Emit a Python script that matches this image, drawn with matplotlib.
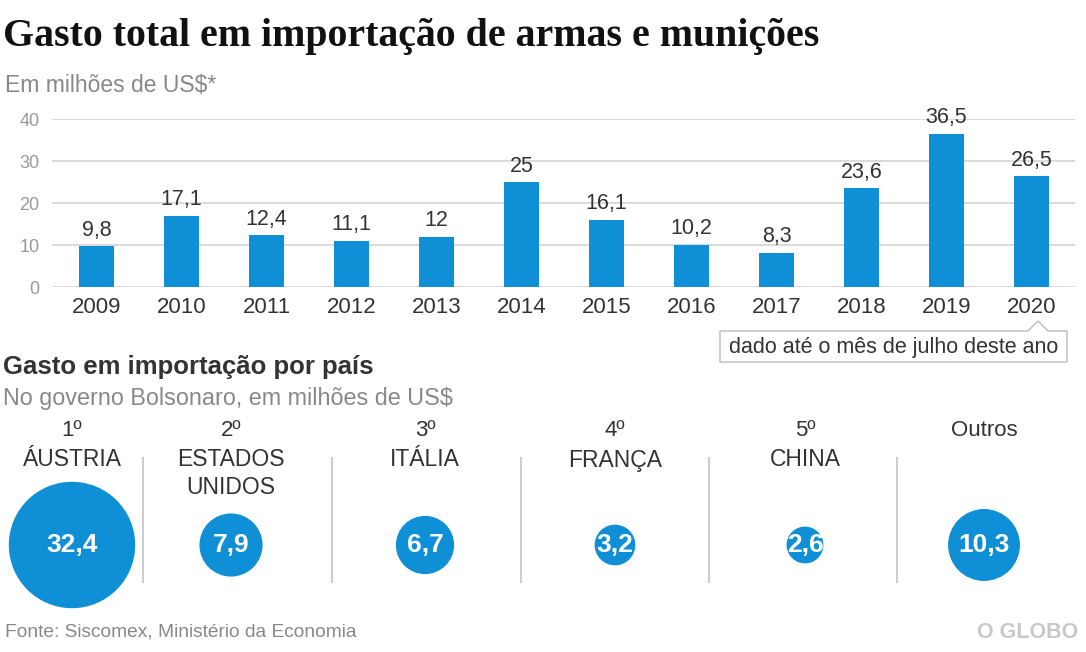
import matplotlib
matplotlib.use("Agg")
import matplotlib.pyplot as plt
from matplotlib.patches import Circle, Polygon
import numpy as np

plt.rcParams['font.family'] = ['Liberation Sans', 'DejaVu Sans']

# dados do gráfico de barras
anos = ['2009', '2010', '2011', '2012', '2013', '2014', '2015', '2016', '2017', '2018', '2019', '2020']
gastos = [9.8, 17.1, 12.4, 11.1, 12.0, 25.0, 16.1, 10.2, 8.3, 23.6, 36.5, 26.5]
rotulos_gasto = ['9,8', '17,1', '12,4', '11,1', '12', '25', '16,1', '10,2', '8,3', '23,6', '36,5', '26,5']

# dados por país
posicoes = ['1º', '2º', '3º', '4º', '5º', 'Outros']
paises = ['ÁUSTRIA', 'ESTADOS\nUNIDOS', 'ITÁLIA', 'FRANÇA', 'CHINA', '']
valores_pais = [32.4, 7.9, 6.7, 3.2, 2.6, 10.3]
rotulos_pais = ['32,4', '7,9', '6,7', '3,2', '2,6', '10,3']

AZUL = '#0f8fd6'
W, H = 1086, 652

fig = plt.figure(figsize=(W / 100, H / 100), dpi=100)

# camada em pixels para textos e círculos
ov = fig.add_axes([0, 0, 1, 1])
ov.set_xlim(0, W)
ov.set_ylim(H, 0)
ov.axis('off')

ov.text(3, 46, 'Gasto total em importação de armas e munições', family='Liberation Serif',
        fontweight='bold', fontsize=28.7, color='#111111', va='baseline', ha='left')
ov.text(5, 86, 'Em milhões de US$*', fontsize=16.5, color='#888888', va='center', ha='left')

# gráfico de barras
ax = fig.add_axes([52 / W, 1 - 287.5 / H, (1075 - 52) / W, (287.5 - 119.3) / H])
x = np.arange(len(anos))
barras = ax.bar(x, gastos, width=0.41, color=AZUL, zorder=3)
ax.set_xlim(-0.5235, 11.512)
ax.set_ylim(0, 40)
ax.set_yticks([0, 10, 20, 30, 40])
ax.yaxis.grid(True, color='#d4d4d4', lw=1.2, zorder=0)
ax.set_xticks(x)
ax.set_xticklabels(anos, fontsize=16, color='#333333')
ax.tick_params(axis='x', length=0, pad=7)
ax.tick_params(axis='y', length=0, pad=9, labelsize=13, labelcolor='#999999')
for s in ax.spines.values():
    s.set_visible(False)
for b, r in zip(barras, rotulos_gasto):
    ax.annotate(r, (b.get_x() + b.get_width() / 2, b.get_height()), xytext=(0, 4),
                textcoords='offset points', ha='center', va='bottom', fontsize=15.5,
                color='#333333', clip_on=False)

# nota sobre 2020
nota = Polygon([(720, 331), (1028, 331), (1038, 321), (1048, 331), (1067, 331),
                (1067, 362), (720, 362)], closed=True, facecolor='white',
               edgecolor='#bbbbbb', lw=1)
ov.add_patch(nota)
ov.text(894, 347, 'dado até o mês de julho deste ano', fontsize=15.5, color='#333333',
        ha='center', va='center')

# seção por país
ov.text(3, 367, 'Gasto em importação por país', fontsize=18.5, fontweight='bold',
        color='#333333', va='center', ha='left')
ov.text(3, 399, 'No governo Bolsonaro, em milhões de US$', fontsize=16.8,
        color='#888888', va='center', ha='left')

centros = [72, 231, 425, 615, 805, 984]
seps = [143, 332, 521, 709, 897]
r_max = 62.5
cy = 545
for cx, pos, pais, v, rot in zip(centros, posicoes, paises, valores_pais, rotulos_pais):
    ov.text(cx, 431, pos, fontsize=16, color='#333333', ha='center', va='center')
    for k, linha in enumerate(pais.split('\n')):
        if linha:
            ov.text(cx, 460 + 28 * k, linha, fontsize=16.5, color='#333333',
                    ha='center', va='center')
    r = r_max * np.sqrt(v / max(valores_pais))
    ov.add_patch(Circle((cx, cy), r, color=AZUL))
    ov.text(cx, cy, rot, fontsize=19, fontweight='bold', color='white',
            ha='center', va='center')
for sx in seps:
    ov.plot([sx, sx], [458, 582], color='#cccccc', lw=1.5)

ov.text(5, 632, 'Fonte: Siscomex, Ministério da Economia', fontsize=13.8,
        color='#888888', va='center', ha='left')
ov.text(1078, 633, 'O GLOBO', fontsize=15.5, fontweight='bold', color='#c8c8c8',
        va='center', ha='right')

fig.savefig('out.png', dpi=100, facecolor='white')
